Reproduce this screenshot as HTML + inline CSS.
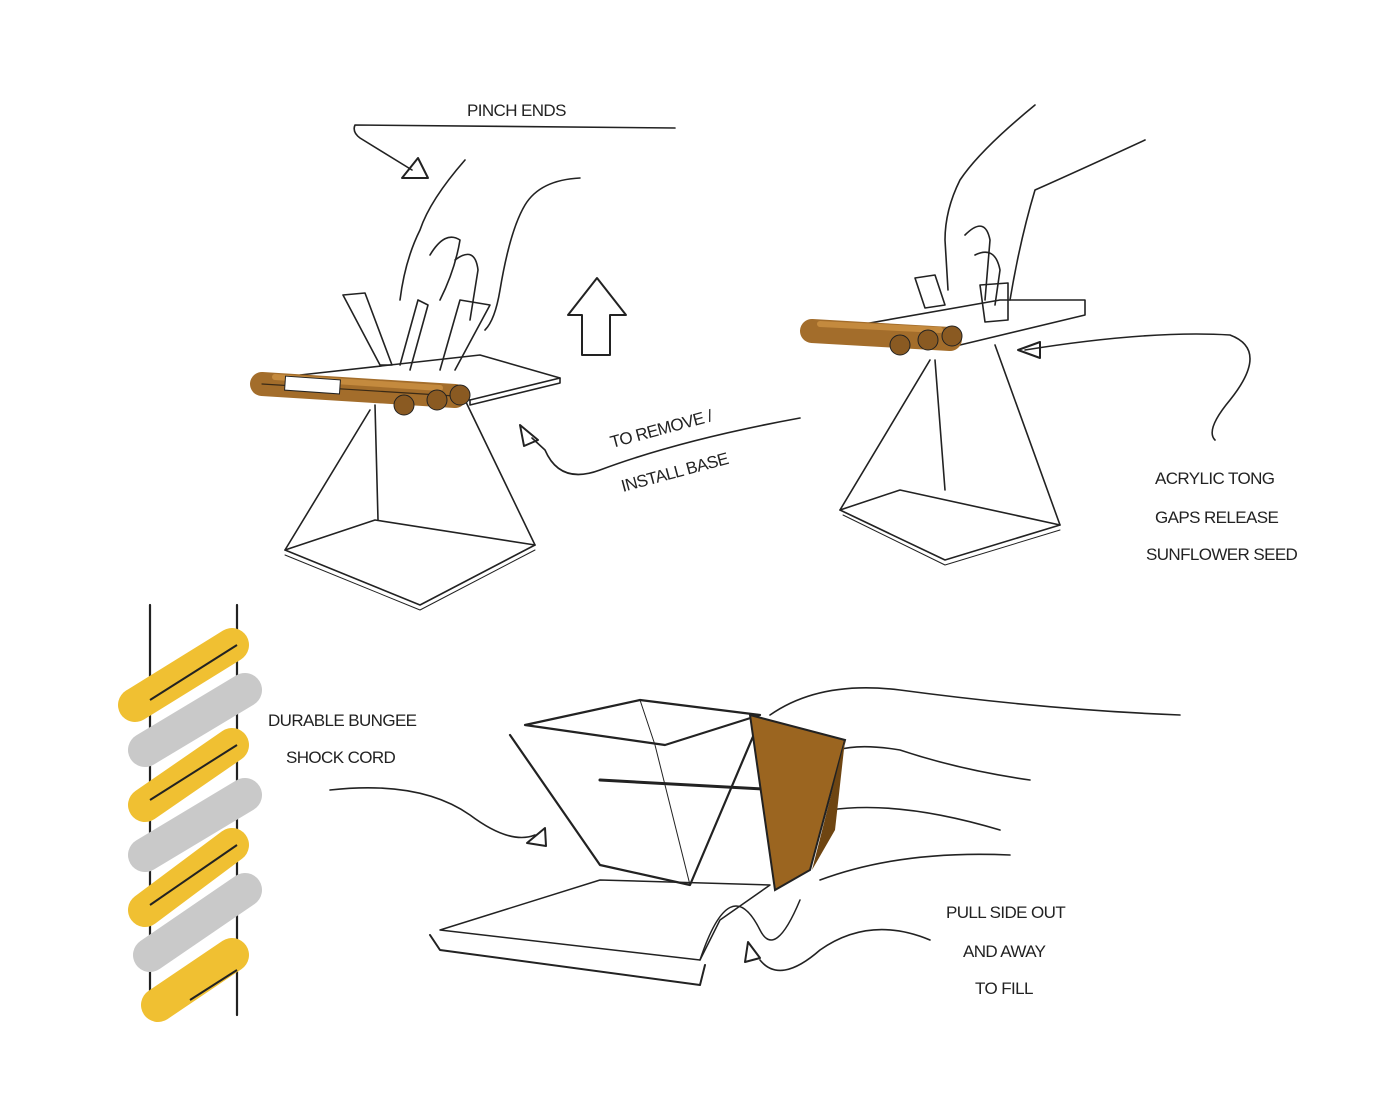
<!DOCTYPE html>
<html><head><meta charset="utf-8"><style>
html,body{margin:0;padding:0;background:#fff;}
svg{display:block}
text{font-family:"Liberation Sans",sans-serif;font-size:17px;fill:#222;letter-spacing:-0.6px}
</style></head><body>
<svg width="1400" height="1105" viewBox="0 0 1400 1105" xmlns="http://www.w3.org/2000/svg">
<g fill="none" stroke="#222" stroke-width="1.6" stroke-linecap="round" stroke-linejoin="round">
<!-- pinch ends arrow -->
<path d="M675 128 L355 125 Q352 132 360 138 L412 170"/>
<path d="M402 178 L428 178 L418 158 Z" stroke-width="2"/>
<!-- up arrow -->
<path d="M582 355 L582 315 L568 315 L597 278 L626 315 L610 315 L610 355 Z" stroke-width="2"/>
<!-- remove/install curved arrow -->
<path d="M800 418 Q680 440 600 470 Q560 485 545 450 L532 438"/>
<path d="M520 425 L538 440 L524 446 Z" stroke-width="2"/>
<!-- top-left hand -->
<path d="M465 160 Q430 200 420 230 Q405 260 400 300"/>
<path d="M580 178 Q540 180 525 205 Q510 230 500 290 Q495 320 485 330"/>
<path d="M430 255 Q445 230 460 240 Q455 270 440 300"/>
<path d="M455 260 Q475 245 478 270 L470 320"/>
<!-- top-left tongs -->
<path d="M343 295 L365 293 L392 365 L380 365 Z"/>
<path d="M400 365 L418 300 L428 305 L410 370"/>
<path d="M440 370 L460 300 L490 305 L455 370"/>
<!-- plate -->
<path d="M300 375 L480 355 L560 378 L470 400 Z"/>
<path d="M470 400 L470 405 L560 383 L560 378"/>
<!-- left pyramid -->
<path d="M370 410 L285 550"/>
<path d="M465 400 L535 545"/>
<path d="M375 405 L378 520"/>
<path d="M285 550 L375 520 L535 545 L420 605 Z"/>
<path d="M285 555 L420 610 L535 550" stroke-width="1"/>
<!-- top-right hand -->
<path d="M1035 105 Q980 150 960 180 Q945 210 945 240 L948 290"/>
<path d="M1145 140 Q1080 170 1035 190 Q1020 240 1010 300"/>
<path d="M965 235 Q985 215 990 240 L985 300"/>
<path d="M975 255 Q995 245 1000 270 L995 305"/>
<path d="M915 278 L935 275 L945 305 L925 308 Z"/>
<path d="M980 285 L1008 283 L1008 320 L985 322 Z"/>
<!-- right plate -->
<path d="M830 330 L1000 300 L1085 300 L1085 315 L960 345 Z"/>
<!-- right pyramid -->
<path d="M930 360 L840 510"/>
<path d="M995 345 L1060 525"/>
<path d="M935 360 L945 490"/>
<path d="M840 510 L900 490 L1060 525 L945 560 Z"/>
<path d="M843 515 L945 565 L1060 530" stroke-width="1"/>
<!-- acrylic tong arrow -->
<path d="M1025 350 Q1150 330 1230 335 Q1270 350 1230 400 Q1205 430 1215 440"/>
<path d="M1018 350 L1040 342 L1040 358 Z" stroke-width="2"/>
<!-- bungee cord lines -->
<path d="M150 605 L150 1015" stroke-width="2.2"/>
<path d="M237 605 L237 1015" stroke-width="2.2"/>
<!-- bungee arrow -->
<path d="M330 790 Q420 780 470 815 Q510 845 535 835"/>
<path d="M527 843 L545 828 L546 846 Z" stroke-width="2"/>
<!-- bottom frame -->
<path d="M525 725 L640 700 L760 715 L665 745 Z" stroke-width="2.2"/>
<path d="M510 735 L600 865 L690 885 L760 720" stroke-width="2.2"/>
<path d="M640 700 L655 745 L690 885" stroke-width="1"/>
<path d="M600 780 L780 790" stroke-width="3"/>
<path d="M440 930 L600 880 L770 885 L720 920 L700 960 Z" stroke-width="1.5"/>
<path d="M430 935 L440 950 L700 985 L705 965" stroke-width="2"/>
<path d="M700 960 Q730 870 760 930 Q775 960 800 900" stroke-width="1.5"/>
<!-- hand bottom -->
<path d="M770 715 Q820 680 900 690 Q1050 710 1180 715"/>
<path d="M820 760 Q840 740 900 750 Q960 770 1030 780"/>
<path d="M830 810 Q900 800 1000 830"/>
<path d="M820 880 Q900 850 1010 855"/>
<!-- pull arrow -->
<path d="M930 940 Q870 915 820 950 Q780 985 760 960"/>
<path d="M748 942 L760 958 L745 962 Z" stroke-width="2"/>
</g>
<!-- logs -->
<g stroke-linecap="round" fill="none">
<path d="M262 384 L455 396" stroke="#a36d2b" stroke-width="24"/>
<path d="M275 377 L440 388" stroke="#c48a3e" stroke-width="6"/>
<path d="M262 384 L455 396" stroke="#3a2a16" stroke-width="1.2"/>
<path d="M812 331 L950 339" stroke="#a36d2b" stroke-width="24"/>
<path d="M820 324 L940 330" stroke="#c48a3e" stroke-width="6"/>
</g>
<rect x="285" y="378" width="55" height="14" fill="#fff" stroke="#222" transform="rotate(4 312 385)"/>
<circle cx="404" cy="405" r="10" fill="#8a5a22" stroke="#222"/>
<circle cx="437" cy="400" r="10" fill="#8a5a22" stroke="#222"/>
<circle cx="460" cy="395" r="10" fill="#8a5a22" stroke="#222"/>
<circle cx="900" cy="345" r="10" fill="#8a5a22" stroke="#222"/>
<circle cx="928" cy="340" r="10" fill="#8a5a22" stroke="#222"/>
<circle cx="952" cy="336" r="10" fill="#8a5a22" stroke="#222"/>
<!-- brown panel -->
<path d="M750 715 L845 740 L810 870 L775 890 Z" fill="#9b6520" stroke="#222" stroke-width="2"/>
<path d="M845 740 L835 830 L812 870 Z" fill="#6e4512"/>
<!-- bungee stripes -->
<g stroke-linecap="round" fill="none" stroke-width="34">
<path d="M135 705 L232 645" stroke="#f0c032"/>
<path d="M145 750 L245 690" stroke="#c9c9c9"/>
<path d="M145 805 L232 745" stroke="#f0c032"/>
<path d="M145 855 L245 795" stroke="#c9c9c9"/>
<path d="M145 910 L232 845" stroke="#f0c032"/>
<path d="M150 955 L245 890" stroke="#c9c9c9"/>
<path d="M158 1005 L232 955" stroke="#f0c032"/>
</g>
<g stroke="#222" stroke-width="2" fill="none">
<path d="M150 700 L237 645"/><path d="M150 800 L237 745"/><path d="M150 905 L237 845"/><path d="M190 1000 L237 970"/>
</g>
<text x="467" y="116">PINCH ENDS</text>
<text x="612" y="448" transform="rotate(-15 612 448)">TO REMOVE /</text>
<text x="623" y="492" transform="rotate(-15 623 492)">INSTALL BASE</text>
<text x="1155" y="484">ACRYLIC TONG</text>
<text x="1155" y="523">GAPS RELEASE</text>
<text x="1146" y="560">SUNFLOWER SEED</text>
<text x="268" y="726">DURABLE BUNGEE</text>
<text x="286" y="763">SHOCK CORD</text>
<text x="946" y="918">PULL SIDE OUT</text>
<text x="963" y="957">AND AWAY</text>
<text x="975" y="994">TO FILL</text>
</svg>
</body></html>
